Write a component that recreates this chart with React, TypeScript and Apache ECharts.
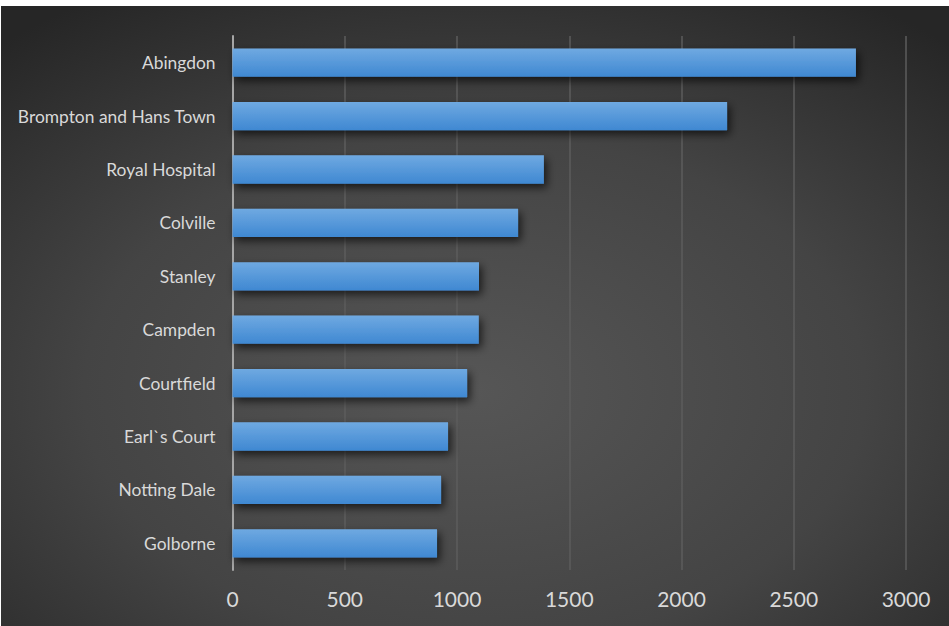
import React, { useEffect, useRef } from "react";
import * as echarts from "echarts";

const categories = [
  "Abingdon",
  "Brompton and Hans Town",
  "Royal Hospital",
  "Colville",
  "Stanley",
  "Campden",
  "Courtfield",
  "Earl`s Court",
  "Notting Dale",
  "Golborne",
];
const values = [2777, 2203, 1387, 1272, 1098, 1097, 1045, 960, 929, 911];
const xTicks = [0, 500, 1000, 1500, 2000, 2500, 3000];

export default function App() {
  const ref = useRef<HTMLDivElement>(null);
  useEffect(() => {
    document.body.style.margin = "0";
    const chart = echarts.init(ref.current!, null, { renderer: "svg" });
    chart.setOption({
      animation: false,
      backgroundColor: "#ffffff",
      graphic: [
        {
          type: "rect",
          z: -10,
          silent: true,
          shape: { x: 1, y: 6, width: 948, height: 620 },
          style: {
            fill: new echarts.graphic.RadialGradient(0.5, 0.62, 0.75, [
              { offset: 0, color: "#565656" },
              { offset: 0.55, color: "#444444" },
              { offset: 1, color: "#262626" },
            ]),
          },
        },
      ],
      grid: { left: 232.5, right: 43, top: 36, bottom: 56, containLabel: false },
      xAxis: {
        type: "value",
        min: xTicks[0],
        max: xTicks[xTicks.length - 1],
        interval: 500,
        axisLine: { show: false },
        axisTick: { show: false },
        axisLabel: {
          color: "#d9d9d9",
          fontSize: 21,
          fontFamily: "Lato",
          margin: 18,
          formatter: (v: number) => String(v),
        },
        splitLine: { show: true, lineStyle: { color: "#5c5c5c", width: 1.5 } },
      },
      yAxis: {
        type: "category",
        inverse: true,
        data: categories,
        axisLine: { show: true, lineStyle: { color: "#a6a6a6", width: 2 } },
        axisTick: { show: false },
        axisLabel: { color: "#d9d9d9", fontSize: 17.4, fontFamily: "Lato", margin: 17 },
      },
      series: [
        {
          type: "bar",
          data: values,
          barCategoryGap: "47%",
          itemStyle: {
            color: new echarts.graphic.LinearGradient(0, 0, 0, 1, [
              { offset: 0, color: "#6fa9e1" },
              { offset: 1, color: "#3f88d2" },
            ]),
            shadowColor: "rgba(0,0,0,0.65)",
            shadowBlur: 8,
            shadowOffsetX: 3,
            shadowOffsetY: 4,
          },
        },
      ],
    });
    return () => chart.dispose();
  }, []);
  return <div ref={ref} style={{ width: 949, height: 626 }} />;
}
